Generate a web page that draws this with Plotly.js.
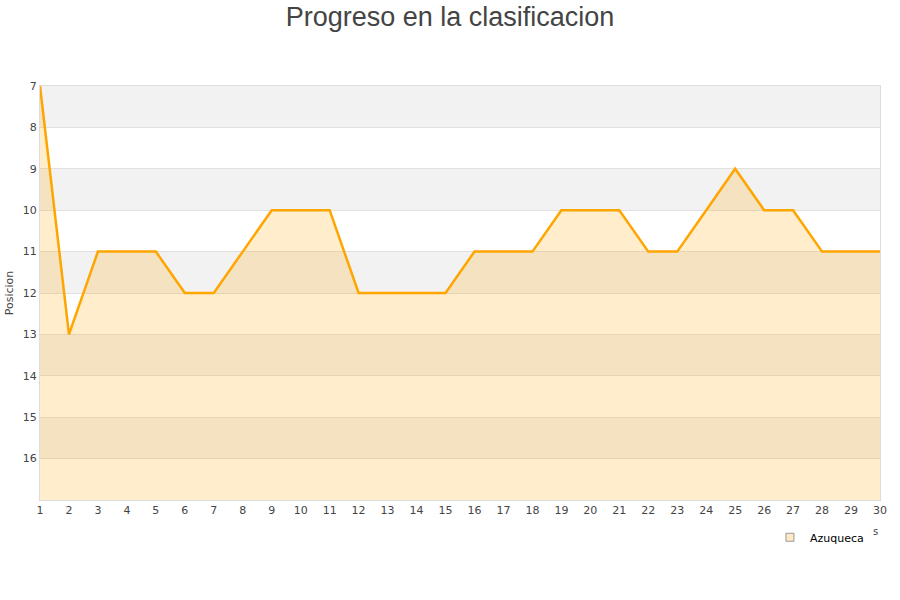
<!DOCTYPE html>
<html>
<head>
<meta charset="utf-8">
<script src="https://cdn.plot.ly/plotly-3.0.1.min.js"></script>
<style>html,body{margin:0;padding:0;background:#fff;}#chart{width:900px;height:600px;}</style>
</head>
<body>
<div id="chart"></div>
<script>
const jornadas = [1,2,3,4,5,6,7,8,9,10,11,12,13,14,15,16,17,18,19,20,21,22,23,24,25,26,27,28,29,30];
const posiciones = [7,13,11,11,11,12,12,11,10,10,10,12,12,12,12,11,11,11,10,10,10,11,11,10,9,10,10,11,11,11];
const teamName = "Azuqueca";
const yTicks = [7,8,9,10,11,12,13,14,15,16];
const yMin = 7, yMax = 17;

const bands = [];
for (let v = yMin; v < yMax; v += 2) {
  bands.push({type:'rect', xref:'paper', x0:0, x1:1, yref:'y', y0:v, y1:v+1,
    fillcolor:'#f2f2f2', line:{width:0}, layer:'below'});
}
const baseline = jornadas.map(() => yMax);

const traces = [
  {x: jornadas, y: baseline, mode:'lines', line:{width:0, color:'rgba(0,0,0,0)'}, showlegend:false, hoverinfo:'skip'},
  {x: jornadas, y: posiciones, mode:'lines', name: teamName, fill:'tonexty',
   fillcolor:'rgba(255,165,0,0.2)', line:{color:'#ffa500', width:2.5}, showlegend:false},
  {x:[null], y:[null], mode:'markers', name: teamName,
   marker:{symbol:'square', size:8, color:'#fde9c4', line:{color:'#999', width:1}}}
];

const layout = {
  width:900, height:600,
  paper_bgcolor:'#fff', plot_bgcolor:'rgba(0,0,0,0)',
  margin:{l:40, r:20, t:86, b:100},
  title:{text:'Progreso en la clasificacion', x:0.5, xanchor:'center', y:0.988, yanchor:'top',
    font:{family:'Liberation Sans, Arial, sans-serif', size:27, color:'#444'}},
  font:{family:'DejaVu Sans, sans-serif', size:11, color:'#444'},
  xaxis:{range:[1,30], tickvals:jornadas, ticks:'', showgrid:false, zeroline:false,
    showline:true, linecolor:'#ddd', mirror:true, tickfont:{size:11, color:'#444'}},
  yaxis:{range:[yMax,yMin], tickvals:yTicks, ticks:'', showgrid:true, gridcolor:'#e0e0e0',
    zeroline:false, showline:true, linecolor:'#ddd', mirror:true, tickfont:{size:11, color:'#444'},
    title:{text:'Posicion', font:{size:11, color:'#444'}, standoff:6}},
  shapes: bands,
  showlegend:true,
  legend:{x:0.869, xanchor:'left', y:-0.055, yanchor:'top', orientation:'h',
    font:{size:11, color:'#000'}, bgcolor:'rgba(0,0,0,0)'},
  annotations:[{text:'s', xref:'paper', yref:'paper', x:0.995, y:-0.075, xanchor:'center', yanchor:'middle',
    showarrow:false, font:{size:10, color:'#444'}}]
};

Plotly.newPlot('chart', traces, layout, {displayModeBar:false, staticPlot:true});
</script>
</body>
</html>
